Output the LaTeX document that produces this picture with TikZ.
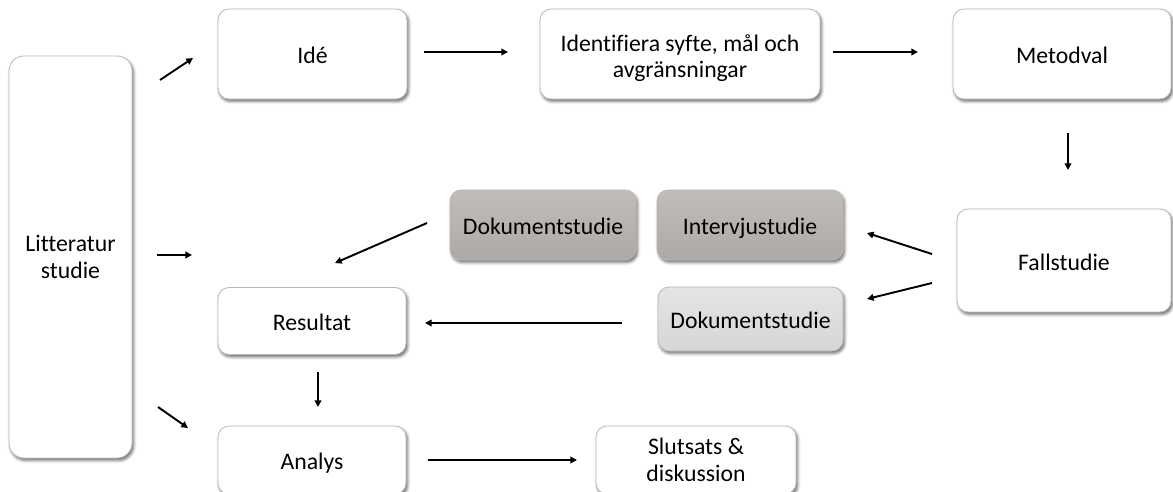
\documentclass[tikz,border=0pt]{standalone}
\usepackage{fontspec}
\setmainfont{Carlito}[Ligatures={NoCommon}]
\usetikzlibrary{arrows.meta,shadows.blur}
\newlength\pxu
\setlength\pxu{0.75pt}
\definecolor{edgegray}{RGB}{185,185,185}
\definecolor{boxdark}{RGB}{172,169,167}
\definecolor{boxdarktop}{RGB}{192,189,187}
\definecolor{boxlight}{RGB}{214,214,214}
\definecolor{boxlighttop}{RGB}{228,228,228}
\tikzset{
  boxfont/.style={font=\fontsize{17.8}{19.8}\selectfont},
  card/.style={draw=edgegray, line width=0.6pt, rounded corners=11\pxu,
    fill=white, align=center, inner sep=0pt, boxfont,
    blur shadow={shadow xshift=1.2pt, shadow yshift=-1.8pt,
      shadow blur radius=2.2pt, shadow opacity=60}},
  oneline/.style={text height=14.5pt, text depth=0pt},
  darkcard/.style={card, oneline, top color=boxdarktop, bottom color=boxdark},
  lightcard/.style={card, oneline, top color=boxlighttop, bottom color=boxlight},
  flow/.style={-{Triangle[length=5pt,width=5pt]}, line width=1.45pt},
}
\begin{document}
\begin{tikzpicture}[x=0.75pt,y=-0.75pt]
\useasboundingbox (0,0) rectangle (1173,492);
\clip (0,0) rectangle (1173,492);

% process boxes
\node[card, rounded corners=15\pxu, minimum width=123\pxu, minimum height=402\pxu] (lit) at (70.5,257) {Litteratur\\studie};
\node[card, oneline, minimum width=189\pxu, minimum height=90\pxu] (ide) at (312.5,54) {Idé};
\node[card, minimum width=280\pxu, minimum height=90\pxu] (ident) at (680,54) {};
\node[align=center, boxfont, inner sep=0pt] (identtext) at ([yshift=-3pt]ident.center) {Identifiera syfte, mål och\\avgränsningar};
\node[card, oneline, minimum width=218\pxu, minimum height=90\pxu] (metod) at (1062,54) {Metodval};
\node[card, oneline, minimum width=214\pxu, minimum height=103\pxu] (fall) at (1064,260.5) {Fallstudie};
\node[darkcard, minimum width=186\pxu, minimum height=70\pxu] (dokA) at (543,225) {Dokumentstudie};
\node[darkcard, minimum width=186\pxu, minimum height=70\pxu] (interv) at (750,225) {Intervjustudie};
\node[lightcard, minimum width=185\pxu, minimum height=64\pxu] (dokB) at (750.5,319) {Dokumentstudie};
\node[card, oneline, minimum width=188\pxu, minimum height=67\pxu] (res) at (312,321) {Resultat};
\node[card, oneline, minimum width=188\pxu, minimum height=68\pxu] (ana) at (312,460) {Analys};
\node[card, minimum width=200\pxu, minimum height=68\pxu] (slut) at (696,460) {Slutsats \&\\diskussion};

% free arrow ends
\coordinate (l1s) at (160,80);   \coordinate (l1e) at (193,58);
\coordinate (l2s) at (157,255);  \coordinate (l2e) at (192,255);
\coordinate (l3s) at (158,407);  \coordinate (l3e) at (188,428);
\coordinate (a1s) at (424,52);   \coordinate (a1e) at (508,52);
\coordinate (a2s) at (833,52);   \coordinate (a2e) at (918,52);
\coordinate (a3s) at (1068,133); \coordinate (a3e) at (1068,170);
\coordinate (a4s) at (932,254);  \coordinate (a4e) at (867,233);
\coordinate (a5s) at (932,283);  \coordinate (a5e) at (867,299);
\coordinate (a6s) at (427,223);  \coordinate (a6e) at (335,263);
\coordinate (a7s) at (622,323);  \coordinate (a7e) at (425,323);
\coordinate (a8s) at (318,372);  \coordinate (a8e) at (318,407);
\coordinate (a9s) at (428,460);  \coordinate (a9e) at (577,460);

\draw[flow] (l1s) -- (l1e);
\draw[flow] (l2s) -- (l2e);
\draw[flow] (l3s) -- (l3e);
\draw[flow] (a1s) -- (a1e);
\draw[flow] (a2s) -- (a2e);
\draw[flow] (a3s) -- (a3e);
\draw[flow] (a4s) -- (a4e);
\draw[flow] (a5s) -- (a5e);
\draw[flow] (a6s) -- (a6e);
\draw[flow] (a7s) -- (a7e);
\draw[flow] (a8s) -- (a8e);
\draw[flow] (a9s) -- (a9e);
\end{tikzpicture}
\end{document}
